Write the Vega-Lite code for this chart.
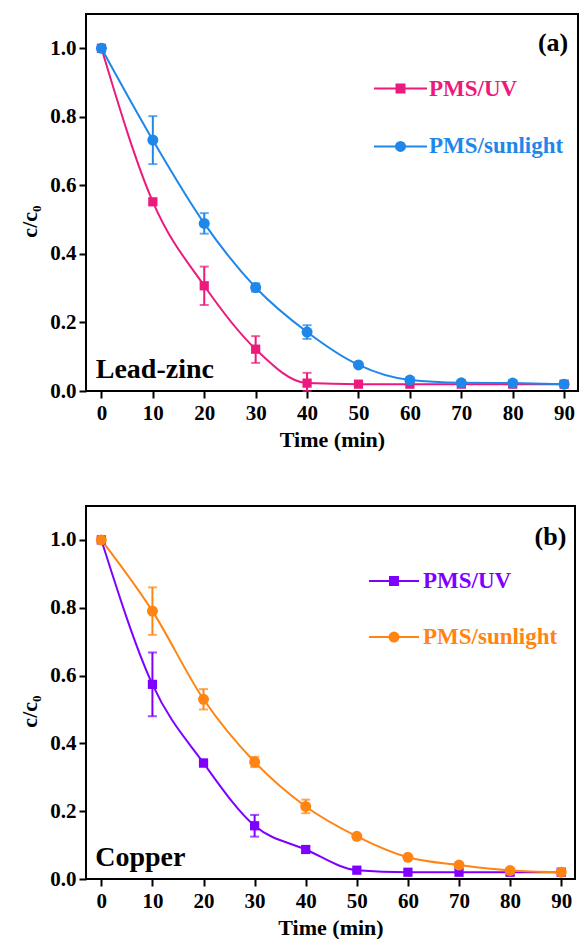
{
  "$schema": "https://vega.github.io/schema/vega-lite/v6.json",
  "background": "white",
  "padding": {"left": 17, "top": 13, "right": 0, "bottom": 0},
  "spacing": 115,
  "bounds": "flush",
  "resolve": {
    "scale": {"x": "independent", "y": "independent", "color": "independent"},
    "legend": {"color": "independent"}
  },
  "config": {
    "view": {"stroke": "black", "strokeWidth": 2},
    "font": "Liberation Serif",
    "axis": {
      "domain": false,
      "grid": false,
      "tickColor": "black",
      "tickWidth": 2,
      "labelFont": "Liberation Serif",
      "labelFontWeight": "bold",
      "labelFontSize": 21,
      "labelColor": "black",
      "titleFont": "Liberation Serif",
      "titleFontWeight": "bold",
      "titleFontSize": 22,
      "titleColor": "black"
    },
    "text": {"font": "Liberation Serif", "fontWeight": "bold", "color": "black"}
  },
  "vconcat": [
    {
      "width": 492,
      "height": 377,
      "data": {
        "values": [
          {"t": 0, "series": "PMS/UV", "v": 1.0},
          {"t": 10, "series": "PMS/UV", "v": 0.552},
          {"t": 20, "series": "PMS/UV", "v": 0.307, "lo": 0.251, "hi": 0.363},
          {"t": 30, "series": "PMS/UV", "v": 0.122, "lo": 0.082, "hi": 0.16},
          {"t": 40, "series": "PMS/UV", "v": 0.023, "lo": 0.0, "hi": 0.053},
          {"t": 50, "series": "PMS/UV", "v": 0.02},
          {"t": 60, "series": "PMS/UV", "v": 0.02},
          {"t": 70, "series": "PMS/UV", "v": 0.02},
          {"t": 80, "series": "PMS/UV", "v": 0.02},
          {"t": 90, "series": "PMS/UV", "v": 0.02},
          {"t": 0, "series": "PMS/sunlight", "v": 1.0},
          {"t": 10, "series": "PMS/sunlight", "v": 0.732, "lo": 0.662, "hi": 0.802},
          {"t": 20, "series": "PMS/sunlight", "v": 0.489, "lo": 0.459, "hi": 0.519},
          {"t": 30, "series": "PMS/sunlight", "v": 0.302, "lo": 0.29, "hi": 0.314},
          {"t": 40, "series": "PMS/sunlight", "v": 0.172, "lo": 0.152, "hi": 0.192},
          {"t": 50, "series": "PMS/sunlight", "v": 0.076},
          {"t": 60, "series": "PMS/sunlight", "v": 0.032},
          {"t": 70, "series": "PMS/sunlight", "v": 0.024},
          {"t": 80, "series": "PMS/sunlight", "v": 0.023},
          {"t": 90, "series": "PMS/sunlight", "v": 0.02}
        ]
      },
      "layer": [
        {
          "mark": {"type": "line", "interpolate": "monotone", "strokeWidth": 2},
          "encoding": {
            "x": {
              "field": "t", "type": "quantitative",
              "scale": {"domain": [-3, 92.7], "nice": false, "zero": false},
              "axis": {
                "values": [0, 5, 10, 15, 20, 25, 30, 35, 40, 45, 50, 55, 60, 65, 70, 75, 80, 85, 90],
                "labelExpr": "datum.value % 10 == 0 ? datum.label : ''",
                "tickSize": {"expr": "datum.value % 10 == 0 ? 7 : 4"},
                "labelPadding": 4,
                "title": "Time (min)",
                "titlePadding": 6
              }
            },
            "y": {
              "field": "v", "type": "quantitative",
              "title": "c/c₀",
              "scale": {"domain": [0, 1.1], "nice": false, "zero": false},
              "axis": {
                "values": [0, 0.1, 0.2, 0.3, 0.4, 0.5, 0.6, 0.7, 0.8, 0.9, 1.0],
                "labelExpr": "round(datum.value * 10) % 2 == 0 ? format(datum.value, '.1f') : ''",
                "tickSize": {"expr": "round(datum.value * 10) % 2 == 0 ? 7 : 4"},
                "labelPadding": 3,
                "titleAngle": -90,
                "titleX": -57,
                "titleY": 207,
                "titleAlign": "center",
                "titleBaseline": "middle"
              }
            },
            "color": {
              "field": "series", "type": "nominal",
              "scale": {"domain": ["PMS/UV", "PMS/sunlight"], "range": ["#ec1a7d", "#1f87ea"]},
              "legend": {
                "orient": "none",
                "legendX": 287,
                "legendY": 47,
                "padding": 0,
                "title": null,
                "symbolSize": 2809,
                "symbolStrokeWidth": 2,
                "symbolType": {"expr": "datum.value === 'PMS/UV' ? 'M-1,0H1M-0.15,-0.15H0.15V0.15H-0.15Z' : 'M-1,0H1M-0.17,0A0.17,0.17,0,1,0,0.17,0A0.17,0.17,0,1,0,-0.17,0Z'"},
                "symbolFillColor": {"expr": "datum.value === 'PMS/UV' ? '#ec1a7d' : '#1f87ea'"},
                "labelColor": {"expr": "datum.value === 'PMS/UV' ? '#ec1a7d' : '#1f87ea'"},
                "labelFont": "Liberation Serif",
                "labelFontWeight": "bold",
                "labelFontSize": 23,
                "labelOffset": 1,
                "labelLimit": 0,
                "rowPadding": 17.9
              }
            }
          }
        },
        {
          "transform": [{"filter": "isValid(datum.lo)"}],
          "mark": {"type": "errorbar", "thickness": 2, "ticks": {"size": 9}},
          "encoding": {
            "x": {"field": "t", "type": "quantitative", "scale": {"domain": [-3, 92.7], "nice": false, "zero": false}},
            "y": {"field": "lo", "type": "quantitative", "title": "c/c₀", "scale": {"domain": [0, 1.1], "nice": false, "zero": false}},
            "y2": {"field": "hi"},
            "color": {"field": "series", "type": "nominal", "scale": {"domain": ["PMS/UV", "PMS/sunlight"], "range": ["#ec1a7d", "#1f87ea"]}, "legend": null}
          }
        },
        {
          "transform": [{"filter": "datum.series === 'PMS/UV'"}],
          "mark": {"type": "point", "shape": "square", "size": 85, "filled": true, "opacity": 1, "color": "#ec1a7d"},
          "encoding": {
            "x": {"field": "t", "type": "quantitative", "scale": {"domain": [-3, 92.7], "nice": false, "zero": false}},
            "y": {"field": "v", "type": "quantitative", "title": "c/c₀", "scale": {"domain": [0, 1.1], "nice": false, "zero": false}}
          }
        },
        {
          "transform": [{"filter": "datum.series === 'PMS/sunlight'"}],
          "mark": {"type": "point", "shape": "circle", "size": 121, "filled": true, "opacity": 1, "color": "#1f87ea"},
          "encoding": {
            "x": {"field": "t", "type": "quantitative", "scale": {"domain": [-3, 92.7], "nice": false, "zero": false}},
            "y": {"field": "v", "type": "quantitative", "title": "c/c₀", "scale": {"domain": [0, 1.1], "nice": false, "zero": false}}
          }
        },
        {
          "data": {"values": [{"label": "(a)"}]},
          "mark": {"type": "text", "align": "right", "baseline": "middle", "fontSize": 26},
          "encoding": {
            "x": {"datum": 90.8, "type": "quantitative"},
            "y": {"datum": 1.015, "type": "quantitative"},
            "text": {"field": "label"}
          }
        },
        {
          "data": {"values": [{"label": "Lead-zinc"}]},
          "mark": {"type": "text", "align": "left", "baseline": "alphabetic", "fontSize": 28},
          "encoding": {
            "x": {"datum": -1.1, "type": "quantitative"},
            "y": {"datum": 0.039, "type": "quantitative"},
            "text": {"field": "label"}
          }
        }
      ]
    },
    {
      "width": 489,
      "height": 373,
      "data": {
        "values": [
          {"t": 0, "series": "PMS/UV", "v": 1.0},
          {"t": 10, "series": "PMS/UV", "v": 0.574, "lo": 0.48, "hi": 0.668},
          {"t": 20, "series": "PMS/UV", "v": 0.342, "lo": 0.332, "hi": 0.352},
          {"t": 30, "series": "PMS/UV", "v": 0.157, "lo": 0.125, "hi": 0.189},
          {"t": 40, "series": "PMS/UV", "v": 0.087, "lo": 0.077, "hi": 0.097},
          {"t": 50, "series": "PMS/UV", "v": 0.026},
          {"t": 60, "series": "PMS/UV", "v": 0.02},
          {"t": 70, "series": "PMS/UV", "v": 0.02},
          {"t": 80, "series": "PMS/UV", "v": 0.02},
          {"t": 90, "series": "PMS/UV", "v": 0.02},
          {"t": 0, "series": "PMS/sunlight", "v": 1.0},
          {"t": 10, "series": "PMS/sunlight", "v": 0.79, "lo": 0.72, "hi": 0.86},
          {"t": 20, "series": "PMS/sunlight", "v": 0.53, "lo": 0.5, "hi": 0.56},
          {"t": 30, "series": "PMS/sunlight", "v": 0.345, "lo": 0.33, "hi": 0.36},
          {"t": 40, "series": "PMS/sunlight", "v": 0.214, "lo": 0.194, "hi": 0.234},
          {"t": 50, "series": "PMS/sunlight", "v": 0.126},
          {"t": 60, "series": "PMS/sunlight", "v": 0.064},
          {"t": 70, "series": "PMS/sunlight", "v": 0.041},
          {"t": 80, "series": "PMS/sunlight", "v": 0.025},
          {"t": 90, "series": "PMS/sunlight", "v": 0.02}
        ]
      },
      "layer": [
        {
          "mark": {"type": "line", "interpolate": "monotone", "strokeWidth": 2},
          "encoding": {
            "x": {
              "field": "t", "type": "quantitative",
              "scale": {"domain": [-3, 92.7], "nice": false, "zero": false},
              "axis": {
                "values": [0, 5, 10, 15, 20, 25, 30, 35, 40, 45, 50, 55, 60, 65, 70, 75, 80, 85, 90],
                "labelExpr": "datum.value % 10 == 0 ? datum.label : ''",
                "tickSize": {"expr": "datum.value % 10 == 0 ? 7 : 4"},
                "labelPadding": 4,
                "title": "Time (min)",
                "titlePadding": 6
              }
            },
            "y": {
              "field": "v", "type": "quantitative",
              "title": "c/c₀",
              "scale": {"domain": [0, 1.1], "nice": false, "zero": false},
              "axis": {
                "values": [0, 0.1, 0.2, 0.3, 0.4, 0.5, 0.6, 0.7, 0.8, 0.9, 1.0],
                "labelExpr": "round(datum.value * 10) % 2 == 0 ? format(datum.value, '.1f') : ''",
                "tickSize": {"expr": "round(datum.value * 10) % 2 == 0 ? 7 : 4"},
                "labelPadding": 3,
                "titleAngle": -90,
                "titleX": -57,
                "titleY": 205,
                "titleAlign": "center",
                "titleBaseline": "middle"
              }
            },
            "color": {
              "field": "series", "type": "nominal",
              "scale": {"domain": ["PMS/UV", "PMS/sunlight"], "range": ["#7f00ff", "#ff8412"]},
              "legend": {
                "orient": "none",
                "legendX": 282,
                "legendY": 49,
                "padding": 0,
                "title": null,
                "symbolSize": 2500,
                "symbolStrokeWidth": 2,
                "symbolType": {"expr": "datum.value === 'PMS/UV' ? 'M-1,0H1M-0.16,-0.16H0.16V0.16H-0.16Z' : 'M-1,0H1M-0.18,0A0.18,0.18,0,1,0,0.18,0A0.18,0.18,0,1,0,-0.18,0Z'"},
                "symbolFillColor": {"expr": "datum.value === 'PMS/UV' ? '#7f00ff' : '#ff8412'"},
                "labelColor": {"expr": "datum.value === 'PMS/UV' ? '#7f00ff' : '#ff8412'"},
                "labelFont": "Liberation Serif",
                "labelFontWeight": "bold",
                "labelFontSize": 23,
                "labelOffset": 3,
                "labelLimit": 0,
                "rowPadding": 18.1
              }
            }
          }
        },
        {
          "transform": [{"filter": "isValid(datum.lo)"}],
          "mark": {"type": "errorbar", "thickness": 2, "ticks": {"size": 9}},
          "encoding": {
            "x": {"field": "t", "type": "quantitative", "scale": {"domain": [-3, 92.7], "nice": false, "zero": false}},
            "y": {"field": "lo", "type": "quantitative", "title": "c/c₀", "scale": {"domain": [0, 1.1], "nice": false, "zero": false}},
            "y2": {"field": "hi"},
            "color": {"field": "series", "type": "nominal", "scale": {"domain": ["PMS/UV", "PMS/sunlight"], "range": ["#7f00ff", "#ff8412"]}, "legend": null}
          }
        },
        {
          "transform": [{"filter": "datum.series === 'PMS/UV'"}],
          "mark": {"type": "point", "shape": "square", "size": 85, "filled": true, "opacity": 1, "color": "#7f00ff"},
          "encoding": {
            "x": {"field": "t", "type": "quantitative", "scale": {"domain": [-3, 92.7], "nice": false, "zero": false}},
            "y": {"field": "v", "type": "quantitative", "title": "c/c₀", "scale": {"domain": [0, 1.1], "nice": false, "zero": false}}
          }
        },
        {
          "transform": [{"filter": "datum.series === 'PMS/sunlight'"}],
          "mark": {"type": "point", "shape": "circle", "size": 121, "filled": true, "opacity": 1, "color": "#ff8412"},
          "encoding": {
            "x": {"field": "t", "type": "quantitative", "scale": {"domain": [-3, 92.7], "nice": false, "zero": false}},
            "y": {"field": "v", "type": "quantitative", "title": "c/c₀", "scale": {"domain": [0, 1.1], "nice": false, "zero": false}}
          }
        },
        {
          "data": {"values": [{"label": "(b)"}]},
          "mark": {"type": "text", "align": "right", "baseline": "middle", "fontSize": 26},
          "encoding": {
            "x": {"datum": 91, "type": "quantitative"},
            "y": {"datum": 1.01, "type": "quantitative"},
            "text": {"field": "label"}
          }
        },
        {
          "data": {"values": [{"label": "Copper"}]},
          "mark": {"type": "text", "align": "left", "baseline": "alphabetic", "fontSize": 28},
          "encoding": {
            "x": {"datum": -1.2, "type": "quantitative"},
            "y": {"datum": 0.037, "type": "quantitative"},
            "text": {"field": "label"}
          }
        }
      ]
    }
  ]
}
